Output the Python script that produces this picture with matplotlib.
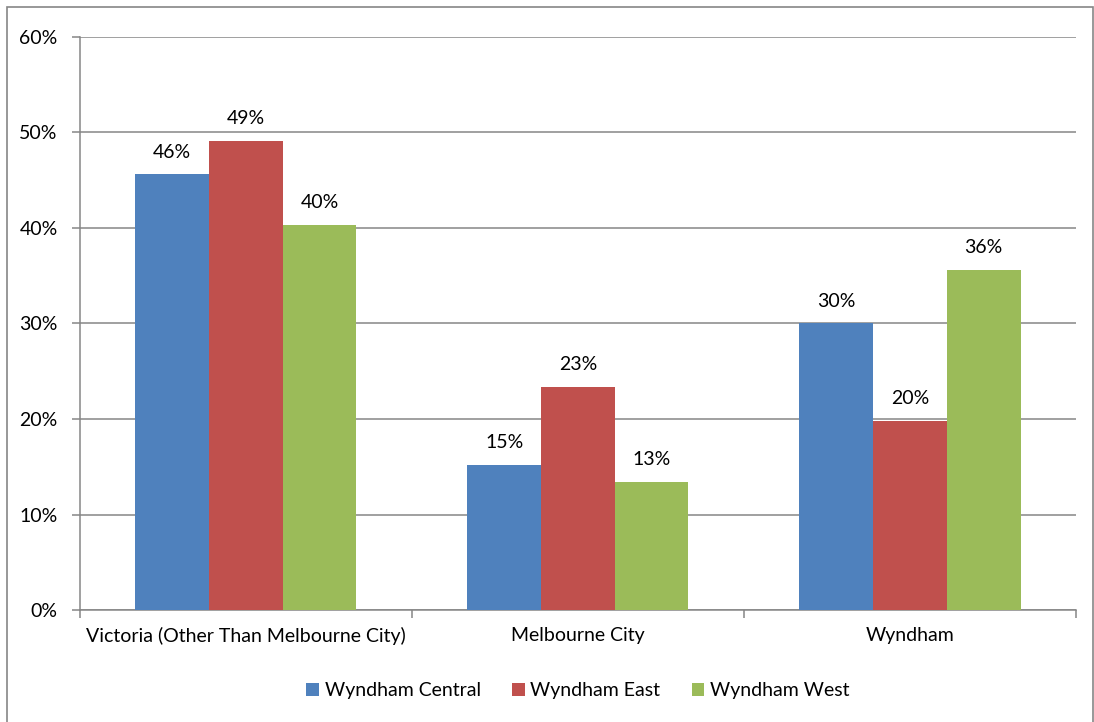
import numpy as np
import matplotlib.pyplot as plt
from matplotlib.patches import Rectangle

plt.rcParams['font.family'] = ['Lato', 'DejaVu Sans']

regions = ["Victoria (Other Than Melbourne City)", "Melbourne City", "Wyndham"]
series = ["Wyndham Central", "Wyndham East", "Wyndham West"]
central = [45.6, 15.2, 30.0]
east = [49.1, 23.4, 19.8]
west = [40.3, 13.4, 35.6]
colors = ["#4f81bd", "#c0504d", "#9bbb59"]
y_ticks = [0, 10, 20, 30, 40, 50, 60]

fs = 14

fig = plt.figure(figsize=(10.94, 7.22), dpi=100)
fig.patches.append(Rectangle((0.0065, -0.01), 0.9925, 1.0, transform=fig.transFigure,
                             fill=False, edgecolor="#868686", linewidth=1.2))
ax = fig.add_axes([0.073, 0.155, 0.9105, 0.794])

x = np.arange(len(regions))
width = 0.222
for i, (name, vals) in enumerate(zip(series, [central, east, west])):
    pos = x + (i - 1) * width
    bars = ax.bar(pos, vals, width, color=colors[i], label=name, zorder=3)
    for b, v in zip(bars, vals):
        ax.annotate(f"{v:.0f}%", (b.get_x() + b.get_width() / 2, v),
                    xytext=(0, 10), textcoords="offset points",
                    ha="center", va="bottom", fontsize=fs)

ax.set_xlim(-0.5, 2.5)
ax.set_ylim(0, 60)
ax.set_yticks(y_ticks)
ax.set_yticklabels([f"{t}%" for t in y_ticks])
ax.yaxis.grid(True, color="#868686", linewidth=1.1, zorder=0)

ax.set_xticks(x)
ax.set_xticklabels(regions)
ax.set_xticks([-0.5, 0.5, 1.5, 2.5], minor=True)
ax.tick_params(axis="x", which="major", length=0, pad=12, labelsize=fs)
ax.tick_params(axis="x", which="minor", length=6, color="#868686", width=1.1)
ax.tick_params(axis="y", length=6, color="#868686", width=1.1, pad=10, labelsize=fs)

for s in ["top", "right"]:
    ax.spines[s].set_visible(False)
for s in ["left", "bottom"]:
    ax.spines[s].set_color("#868686")
    ax.spines[s].set_linewidth(1.1)

ax.legend(loc="upper center", bbox_to_anchor=(0.5, -0.095), ncol=3, frameon=False,
          fontsize=fs, handlelength=0.65, handleheight=0.65, handletextpad=0.3,
          columnspacing=1.6)

fig.savefig("out.png", dpi=100)
